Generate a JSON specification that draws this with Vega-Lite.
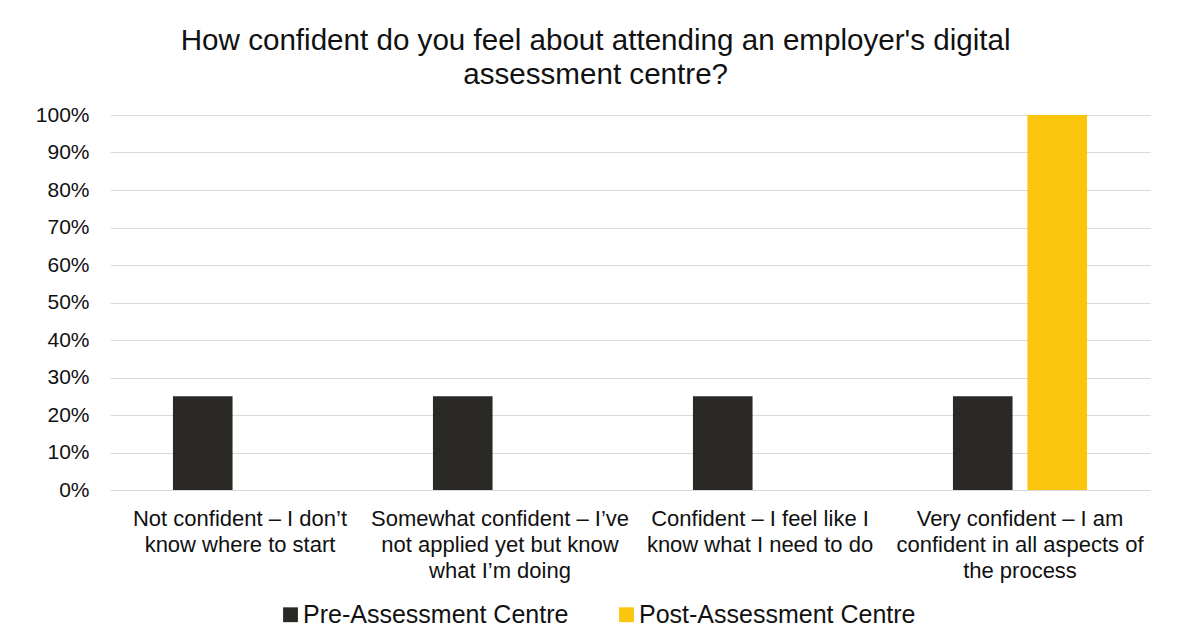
{
  "$schema": "https://vega.github.io/schema/vega-lite/v6.json",
  "width": 1040,
  "height": 375,
  "padding": {"left": 35, "top": 26, "right": 30, "bottom": 5},
  "background": "white",
  "title": {
    "text": ["How confident do you feel about attending an employer's digital", "assessment centre?"],
    "fontSize": 29.6,
    "font": "Liberation Sans",
    "fontWeight": "normal",
    "color": "#111111",
    "lineHeight": 34,
    "anchor": "middle",
    "frame": "bounds",
    "offset": 13,
    "dx": 3
  },
  "data": {
    "values": [
      {"response": "Not confident – I don’t\nknow where to start", "period": "Pre-Assessment Centre", "pct": 0.25},
      {"response": "Not confident – I don’t\nknow where to start", "period": "Post-Assessment Centre", "pct": 0},
      {"response": "Somewhat confident – I’ve\nnot applied yet but know\nwhat I’m doing", "period": "Pre-Assessment Centre", "pct": 0.25},
      {"response": "Somewhat confident – I’ve\nnot applied yet but know\nwhat I’m doing", "period": "Post-Assessment Centre", "pct": 0},
      {"response": "Confident – I feel like I\nknow what I need to do", "period": "Pre-Assessment Centre", "pct": 0.25},
      {"response": "Confident – I feel like I\nknow what I need to do", "period": "Post-Assessment Centre", "pct": 0},
      {"response": "Very confident – I am\nconfident in all aspects of\nthe process", "period": "Pre-Assessment Centre", "pct": 0.25},
      {"response": "Very confident – I am\nconfident in all aspects of\nthe process", "period": "Post-Assessment Centre", "pct": 1}
    ]
  },
  "mark": {"type": "bar"},
  "encoding": {
    "x": {
      "field": "response",
      "type": "nominal",
      "sort": null,
      "scale": {"paddingInner": 0, "paddingOuter": 0},
      "axis": {
        "title": null,
        "labelAngle": 0,
        "labelFontSize": 22,
        "labelLineHeight": 26,
        "labelPadding": 18,
        "labelLimit": 320,
        "labelColor": "#111111",
        "labelExpr": "split(datum.label, '\\n')",
        "ticks": false,
        "domain": false,
        "grid": false
      }
    },
    "xOffset": {
      "field": "period",
      "type": "nominal",
      "sort": ["Pre-Assessment Centre", "Post-Assessment Centre"],
      "scale": {"paddingInner": 0.2, "paddingOuter": 0.845}
    },
    "y": {
      "field": "pct",
      "type": "quantitative",
      "scale": {"domain": [0, 1], "nice": false},
      "axis": {
        "title": null,
        "format": ".0%",
        "values": [0, 0.1, 0.2, 0.3, 0.4, 0.5, 0.6, 0.7, 0.8, 0.9, 1],
        "labelFontSize": 21,
        "labelColor": "#111111",
        "labelPadding": 21,
        "ticks": false,
        "domain": false,
        "grid": true,
        "gridColor": "#D9D9D9",
        "gridWidth": 1
      }
    },
    "color": {
      "field": "period",
      "type": "nominal",
      "sort": ["Pre-Assessment Centre", "Post-Assessment Centre"],
      "scale": {
        "domain": ["Pre-Assessment Centre", "Post-Assessment Centre"],
        "range": ["#2B2926", "#FCC50D"]
      },
      "legend": {
        "title": null,
        "orient": "none",
        "legendX": 168,
        "legendY": 487,
        "direction": "horizontal",
        "labelFontSize": 25,
        "labelLimit": 500,
        "labelColor": "#111111",
        "symbolType": "square",
        "symbolSize": 220,
        "symbolStrokeWidth": 0,
        "labelOffset": 0,
        "columnPadding": 45
      }
    }
  },
  "config": {
    "view": {"stroke": null},
    "font": "Liberation Sans"
  }
}
